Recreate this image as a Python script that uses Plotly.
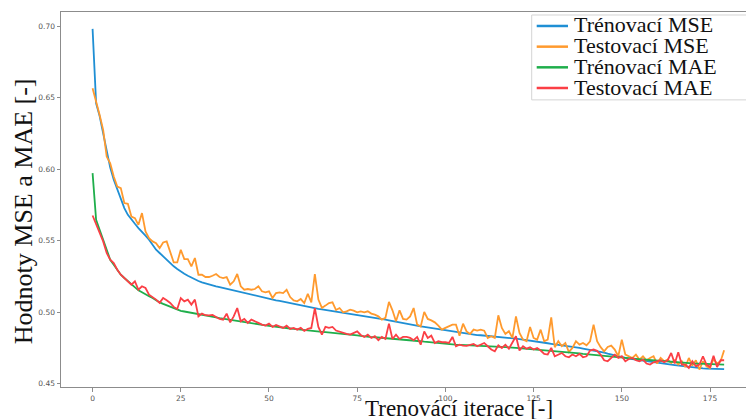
import plotly.graph_objects as go

iterations = list(range(180))

train_mse = [
0.698,0.646,0.637,0.625,0.611,0.601,0.5925,0.5855,0.5785,0.5727,
0.568,0.5645,0.5617,0.5587,0.5564,0.5534,0.5506,0.547,0.5436,0.5413,
0.5389,0.5366,0.5343,0.532,0.5301,0.5283,0.5268,0.5254,0.5240,0.5228,
0.5217,0.5207,0.5199,0.5192,0.5186,0.5180,0.5174,0.5168,0.5163,0.5158,
0.5152,0.5146,0.5140,0.5133,0.5126,0.5120,0.5114,0.5108,0.5102,0.5097,
0.5092,0.5087,0.5082,0.5078,0.5073,0.5068,0.5062,0.5056,0.5050,0.5044,
0.5038,0.5034,0.5030,0.5027,0.5023,0.5019,0.5015,0.5011,0.5007,0.5003,
0.4999,0.4996,0.4993,0.4990,0.4987,0.4984,0.4980,0.4976,0.4971,0.4967,
0.4962,0.4957,0.4952,0.4947,0.4942,0.4937,0.4932,0.4927,0.4922,0.4917,
0.4912,0.4908,0.4904,0.4900,0.4897,0.4893,0.4888,0.4883,0.4879,0.4875,
0.4871,0.4867,0.4863,0.4859,0.4855,0.4851,0.4847,0.4843,0.4841,0.4839,
0.4838,0.4836,0.4834,0.4832,0.4831,0.4829,0.4826,0.4823,0.4820,0.4817,
0.4814,0.4811,0.4808,0.4805,0.4802,0.4798,0.4794,0.4790,0.4786,0.4782,
0.4778,0.4775,0.4772,0.4769,0.4765,0.4761,0.4757,0.4753,0.4749,0.4745,
0.4741,0.4737,0.4733,0.4728,0.4722,0.4716,0.4709,0.4702,0.4695,0.4689,
0.4684,0.4679,0.4675,0.4671,0.4667,0.4663,0.4659,0.4655,0.4651,0.4647,
0.4644,0.4641,0.4638,0.4635,0.4632,0.4629,0.4626,0.4622,0.4618,0.4614,
0.4611,0.4609,0.4607,0.4606,0.4605,0.4604,0.4603,0.4603,0.4602,0.4601]

test_mse = [
0.6565,0.646,0.6378,0.6274,0.6087,0.604,0.5948,0.5878,0.5867,0.5762,
0.5757,0.5668,0.5657,0.561,0.5692,0.5564,0.5517,0.5494,0.5482,0.5447,
0.5487,0.5494,0.5424,0.5347,0.5347,0.5436,0.537,0.537,0.532,0.5378,
0.5261,0.5261,0.5245,0.5245,0.5254,0.5266,0.5245,0.5238,0.5245,0.5191,
0.5215,0.5266,0.518,0.5156,0.5161,0.5156,0.5161,0.518,0.5145,0.5138,
0.5145,0.5098,0.5133,0.5138,0.5133,0.5156,0.5105,0.5082,0.5075,0.5091,
0.5063,0.5128,0.5068,0.5266,0.5087,0.5029,0.5045,0.5063,0.5068,0.5014,
0.5028,0.4998,0.5005,0.5017,0.5010,0.4998,0.5005,0.4998,0.5005,0.4989,
0.4982,0.4970,0.4947,0.4959,0.5071,0.5012,0.4936,0.5012,0.4952,0.4947,
0.4970,0.5028,0.4912,0.4900,0.5001,0.4952,0.4942,0.4928,0.4905,0.4877,
0.4889,0.4900,0.4912,0.4912,0.4835,0.4919,0.4865,0.4847,0.4877,0.4870,
0.4877,0.4870,0.4819,0.4831,0.4819,0.4977,0.4889,0.4847,0.4866,0.4819,
0.4970,0.4854,0.4807,0.4796,0.4896,0.4819,0.4807,0.4877,0.4796,0.4807,
0.4963,0.4754,0.4796,0.4761,0.4784,0.4721,0.4749,0.4796,0.4772,0.4784,
0.4768,0.4796,0.4912,0.4796,0.4755,0.4726,0.4756,0.4765,0.4738,0.4691,
0.4807,0.4702,0.4691,0.4679,0.4702,0.4668,0.4691,0.4663,0.4679,0.4691,
0.4640,0.4679,0.4656,0.4668,0.4644,0.4663,0.4633,0.4656,0.4616,0.4679,
0.4626,0.4663,0.4598,0.4656,0.4621,0.4609,0.4672,0.4640,0.4656,0.4733]

train_mae = [
0.5971,0.5645,0.5575,0.5506,0.5424,0.5366,0.5331,0.5296,0.5261,0.5238,
0.5215,0.5191,0.5168,0.5152,0.5138,0.5122,0.5110,0.5098,0.5082,0.5068,
0.5057,0.5047,0.5036,0.5024,0.5014,0.5008,0.5004,0.5000,0.4995,0.4990,
0.4985,0.4981,0.4977,0.4972,0.4968,0.4963,0.4958,0.4954,0.4949,0.4944,
0.4940,0.4935,0.4932,0.4928,0.4925,0.4921,0.4918,0.4914,0.4911,0.4907,
0.4904,0.4900,0.4897,0.4894,0.4891,0.4888,0.4885,0.4882,0.4879,0.4876,
0.4872,0.4870,0.4868,0.4866,0.4864,0.4862,0.4860,0.4858,0.4856,0.4854,
0.4852,0.4849,0.4846,0.4843,0.4840,0.4837,0.4834,0.4830,0.4827,0.4825,
0.4824,0.4822,0.4821,0.4819,0.4818,0.4816,0.4815,0.4813,0.4811,0.4808,
0.4805,0.4802,0.4799,0.4796,0.4793,0.4790,0.4787,0.4784,0.4782,0.4780,
0.4778,0.4776,0.4774,0.4772,0.4771,0.4770,0.4769,0.4768,0.4767,0.4766,
0.4765,0.4764,0.4763,0.4762,0.4761,0.4760,0.4758,0.4756,0.4754,0.4752,
0.4750,0.4748,0.4747,0.4745,0.4744,0.4742,0.4739,0.4737,0.4734,0.4732,
0.4730,0.4727,0.4725,0.4723,0.4721,0.4718,0.4716,0.4713,0.4711,0.4708,
0.4706,0.4704,0.4702,0.4700,0.4698,0.4695,0.4693,0.4690,0.4688,0.4685,
0.4683,0.4680,0.4678,0.4675,0.4673,0.4670,0.4668,0.4665,0.4663,0.4660,
0.4658,0.4656,0.4654,0.4652,0.4650,0.4649,0.4647,0.4645,0.4644,0.4642,
0.4641,0.4640,0.4639,0.4638,0.4637,0.4636,0.4635,0.4634,0.4634,0.4633]

test_mae = [
0.5675,0.561,0.5552,0.5494,0.5413,0.5366,0.5343,0.5296,0.5261,0.5238,
0.5215,0.5191,0.5215,0.5156,0.518,0.5168,0.5122,0.5105,0.5087,0.5064,
0.5098,0.5082,0.5064,0.5036,0.5022,0.5098,0.5075,0.5087,0.5052,0.5087,
0.4970,0.4989,0.4978,0.4977,0.4980,0.4966,0.4952,0.4947,0.4989,0.4928,
0.4970,0.5028,0.4935,0.4952,0.4924,0.4947,0.4933,0.4924,0.4912,0.4905,
0.4919,0.4896,0.4910,0.4900,0.4889,0.4905,0.4882,0.4889,0.4877,0.4889,
0.4868,0.4882,0.4889,0.5028,0.4896,0.4842,0.4896,0.4889,0.4896,0.4871,
0.4862,0.4854,0.4847,0.4842,0.4854,0.4865,0.4840,0.4826,0.4842,0.4819,
0.4831,0.4803,0.4826,0.4812,0.4919,0.4812,0.4842,0.4812,0.4826,0.4826,
0.4819,0.4803,0.4826,0.4772,0.4865,0.4819,0.4835,0.4784,0.4796,0.4789,
0.4789,0.4784,0.4826,0.4761,0.4772,0.4765,0.4764,0.4772,0.4777,0.4761,
0.4772,0.4784,0.4761,0.4738,0.4726,0.4768,0.4749,0.4772,0.4744,0.4784,
0.4831,0.4731,0.4761,0.4744,0.4754,0.4738,0.4749,0.4731,0.4707,0.4703,
0.4749,0.4691,0.4703,0.4714,0.4691,0.4684,0.4703,0.4691,0.4707,0.4684,
0.4691,0.4731,0.4738,0.4729,0.4702,0.4663,0.4656,0.4679,0.4702,0.4679,
0.4691,0.4656,0.4672,0.4679,0.4663,0.4656,0.4668,0.4640,0.4633,0.4649,
0.4656,0.4663,0.4649,0.4663,0.4714,0.4640,0.4719,0.4633,0.4633,0.4609,
0.4656,0.4621,0.4633,0.4691,0.4633,0.4616,0.4695,0.4616,0.4663,0.4663]

series_names = ["Trénovací MSE", "Testovací MSE", "Trénovací MAE", "Testovací MAE"]
series_values = [train_mse, test_mse, train_mae, test_mae]
series_colors = ["#1f8fd4", "#ff9a2e", "#1fae4b", "#fb3f45"]

x_ticks = [0, 25, 50, 75, 100, 125, 150, 175]
x_tick_labels = ["0", "25", "50", "75", "100", "125", "150", "175"]
y_ticks = [0.45, 0.50, 0.55, 0.60, 0.65, 0.70]
y_tick_labels = ["0.45", "0.50", "0.55", "0.60", "0.65", "0.70"]

W, H = 746, 419
L, R, T, B = 61, 746, 12, 387.5

def px_x(p):
    return (p - L) / (R - L)

def px_y(p):
    return (B - p) / (B - T)

fig = go.Figure()
for name, vals, col in zip(series_names, series_values, series_colors):
    fig.add_trace(go.Scatter(x=iterations, y=vals, mode="lines", name=name,
                             line=dict(color=col, width=1.8), showlegend=False))

axis_common = dict(showgrid=False, zeroline=False, showline=True, linecolor="#8c8c8c",
                   linewidth=1, ticks="outside", ticklen=3.5, tickcolor="#8c8c8c",
                   tickmode="array",
                   tickfont=dict(family="DejaVu Sans", size=7.5, color="#555555"))

fig.update_xaxes(range=[-8.95, 185.2], tickvals=x_ticks, ticktext=x_tick_labels, mirror=True, **axis_common)
fig.update_yaxes(range=[0.4476, 0.7098], tickvals=y_ticks, ticktext=y_tick_labels, **axis_common)

annotations = [
    dict(text="Hodnoty MSE a MAE [-]", x=px_x(23.5), y=px_y(212), xref="paper", yref="paper",
         textangle=-90, showarrow=False, xanchor="center", yanchor="middle",
         font=dict(family="Liberation Serif", size=26, color="#111111")),
    dict(text="Trenovácí iterace [-]", x=px_x(459), y=px_y(409), xref="paper", yref="paper",
         showarrow=False, xanchor="center", yanchor="middle",
         font=dict(family="Liberation Serif", size=23, color="#111111")),
]

shapes = [
    dict(type="rect", xref="paper", yref="paper", x0=px_x(531.7), x1=px_x(760),
         y0=px_y(100), y1=px_y(15), line=dict(color="#d4d4d4", width=1), fillcolor="white", layer="above"),
]
row_y = [26, 46.7, 67.4, 88.1]
for name, col, ry in zip(series_names, series_colors, row_y):
    shapes.append(dict(type="line", xref="paper", yref="paper", x0=px_x(536.7), x1=px_x(568),
                       y0=px_y(ry), y1=px_y(ry), line=dict(color=col, width=2.5), layer="above"))
    annotations.append(dict(text=name, x=px_x(571.5), y=px_y(ry - 1), xref="paper", yref="paper",
                            showarrow=False, xanchor="left", yanchor="middle",
                            font=dict(family="Liberation Serif", size=22, color="#111111")))

fig.update_layout(width=W, height=H, margin=dict(l=L, r=W - R, t=T, b=H - B),
                  plot_bgcolor="white", paper_bgcolor="white",
                  annotations=annotations, shapes=shapes, showlegend=False)

fig.write_html("out.html")
